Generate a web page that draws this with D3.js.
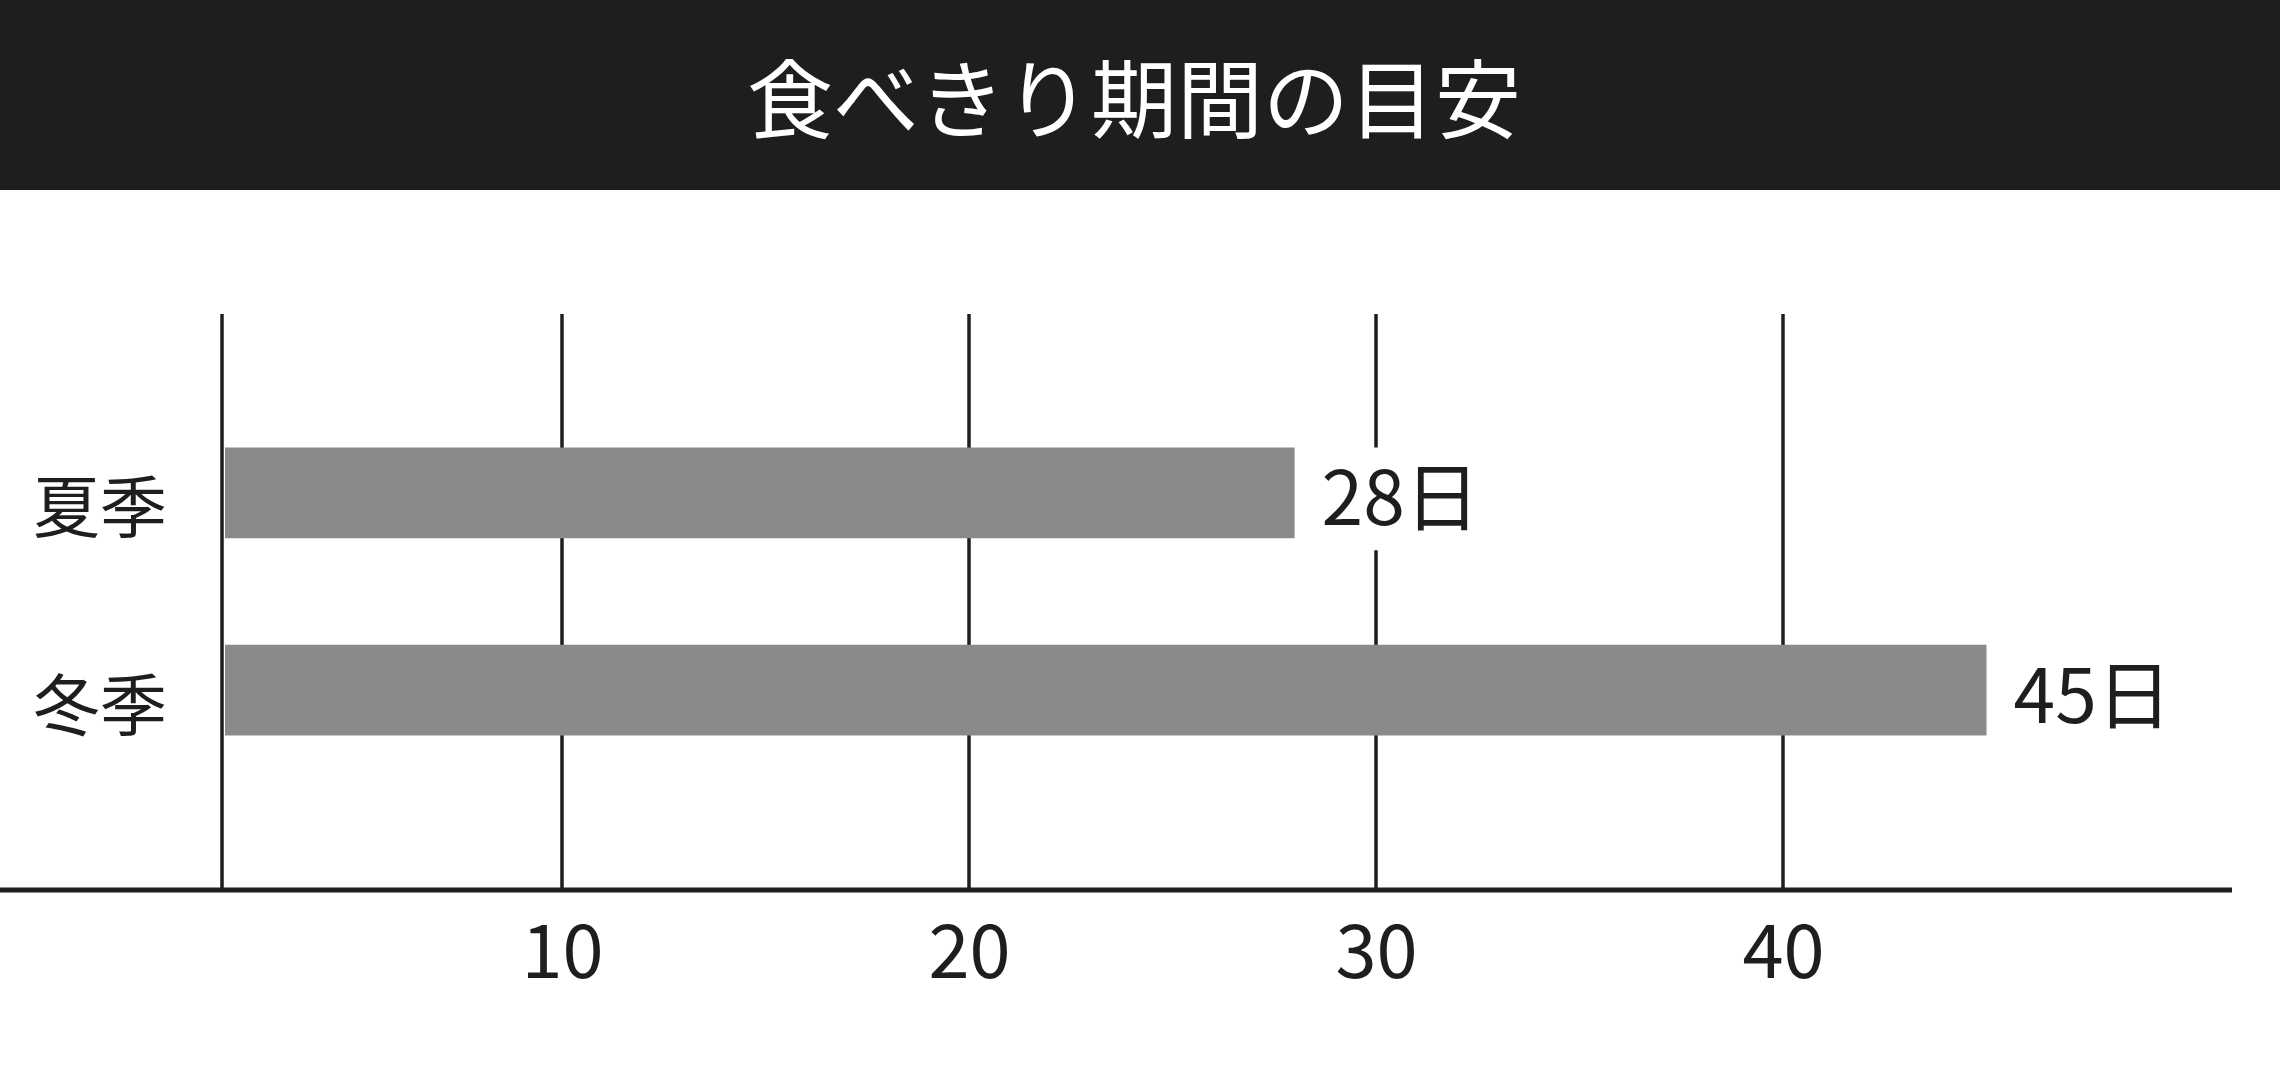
<!DOCTYPE html>
<html>
<head>
<meta charset="utf-8">
<script src="https://cdn.jsdelivr.net/npm/d3@7"></script>
<style>
  html, body { margin: 0; padding: 0; background: #fff; }
  #plot { width: 2280px; height: 1079px; }
</style>
</head>
<body>
<div id="plot"></div>
<script>
// Chart data
const title = "食べきり期間の目安";
const seasons = ["夏季", "冬季"];
const days = [28, 45];
const valueSuffix = "日";
const tickValues = [10, 20, 30, 40];

function createPlot() {
    d3.select("#plot").html("");

    const width = 2280;
    const height = 1079;
    const headerHeight = 190;
    const axisY = 890;
    const gridTop = 314;
    const originX = 222;
    const font = "'Noto Sans CJK JP', 'Noto Sans', sans-serif";
    const ink = "#1e1e1e";

    const svg = d3.select("#plot")
        .append("svg")
        .attr("width", width)
        .attr("height", height)
        .attr("viewBox", [0, 0, width, height])
        .style("font-family", font);

    // Title bar
    svg.append("rect")
        .attr("x", 0).attr("y", 0)
        .attr("width", width).attr("height", headerHeight)
        .attr("fill", ink);

    svg.append("text")
        .attr("x", 1134)
        .attr("y", 94)
        .attr("text-anchor", "middle")
        .attr("dominant-baseline", "central")
        .attr("fill", "#fff")
        .style("font-size", "86px")
        .style("font-weight", 400)
        .text(title);

    // Scales
    const x = d3.scaleLinear()
        .domain([0, 50])
        .range([155, 2190]);

    const y = d3.scaleBand()
        .domain(seasons)
        .range([341, 842])
        .padding(0.54);

    // Vertical grid lines (origin line + ticks)
    svg.append("line")
        .attr("x1", originX).attr("x2", originX)
        .attr("y1", gridTop).attr("y2", axisY)
        .attr("stroke", ink)
        .attr("stroke-width", 3.5);

    svg.append("g")
        .selectAll("line")
        .data(tickValues)
        .join("line")
        .attr("x1", d => x(d)).attr("x2", d => x(d))
        .attr("y1", gridTop).attr("y2", axisY)
        .attr("stroke", ink)
        .attr("stroke-width", 3.5);

    // Bars
    svg.append("g")
        .selectAll("rect")
        .data(seasons)
        .join("rect")
        .attr("x", originX + 3)
        .attr("y", d => y(d))
        .attr("width", (d, i) => x(days[i]) - originX - 3)
        .attr("height", y.bandwidth())
        .attr("fill", "#8a8a8a");

    // Value labels with a white backing so grid lines break around them
    const labels = svg.append("g")
        .selectAll("g")
        .data(seasons)
        .join("g")
        .attr("transform", (d, i) => `translate(${x(days[i]) + 27},${y(d) + y.bandwidth() / 2})`);

    labels.append("text")
        .attr("dominant-baseline", "central")
        .attr("fill", ink)
        .style("font-size", "75px")
        .text((d, i) => days[i] + valueSuffix)
        .each(function() {
            const b = this.getBBox();
            d3.select(this.parentNode).insert("rect", "text")
                .attr("x", b.x - 6)
                .attr("y", -y.bandwidth() / 2)
                .attr("width", b.width + 12)
                .attr("height", y.bandwidth() + 12)
                .attr("fill", "#fff");
        });

    // Category labels
    svg.append("g")
        .selectAll("text")
        .data(seasons)
        .join("text")
        .attr("x", 100)
        .attr("y", d => y(d) + y.bandwidth() / 2 + 10)
        .attr("text-anchor", "middle")
        .attr("dominant-baseline", "central")
        .attr("fill", ink)
        .style("font-size", "67px")
        .text(d => d);

    // Horizontal axis
    svg.append("line")
        .attr("x1", 0).attr("x2", 2232)
        .attr("y1", axisY).attr("y2", axisY)
        .attr("stroke", ink)
        .attr("stroke-width", 5);

    const xAxis = svg.append("g")
        .attr("transform", `translate(0,${axisY})`)
        .call(d3.axisBottom(x).tickValues(tickValues).tickSize(0))
        .call(g => g.select(".domain").remove());

    xAxis.selectAll("text")
        .attr("y", 55)
        .attr("dy", null)
        .attr("dominant-baseline", "central")
        .attr("fill", ink)
        .style("font-family", font)
        .style("font-size", "74px");

    return svg.node();
}

createPlot();
</script>
</body>
</html>
